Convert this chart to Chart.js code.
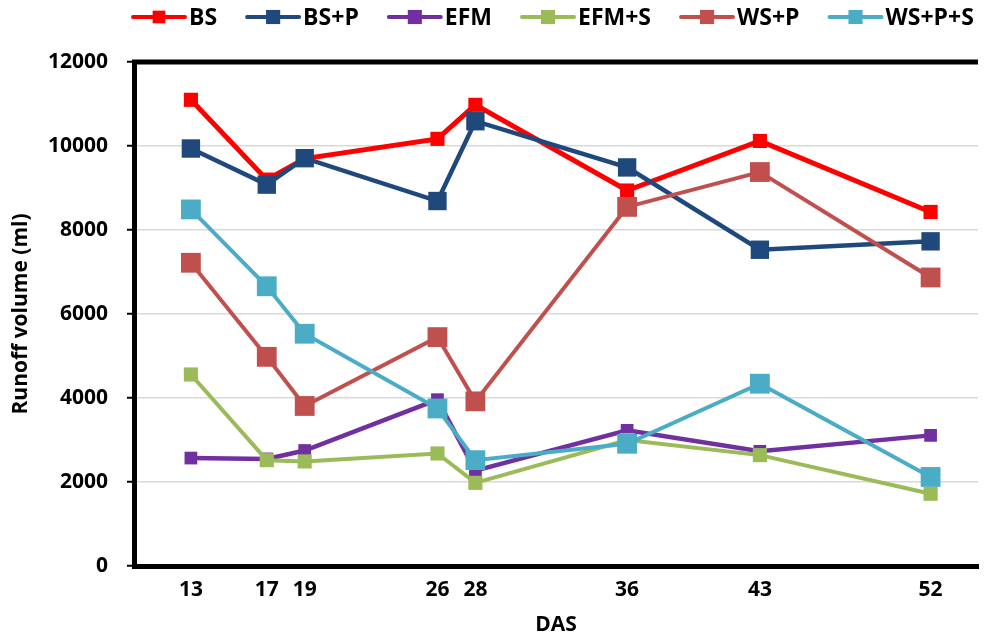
<!DOCTYPE html>
<html>
<head>
<meta charset="utf-8">
<script src="https://cdn.jsdelivr.net/npm/chart.js@4"></script>
<style>
html,body{margin:0;padding:0;background:#fff;overflow:hidden;}
#wrap{width:992px;height:639px;position:relative;}
</style>
</head>
<body>
<div id="wrap"><canvas id="c" width="992" height="639"></canvas></div>
<script>
const das = [13, 17, 19, 26, 28, 36, 43, 52];
const seriesNames = ["BS", "BS+P", "EFM", "EFM+S", "WS+P", "WS+P+S"];
const bs    = [11100, 9200, 9700, 10170, 10980, 8940, 10120, 8430];
const bsP   = [9940, 9080, 9710, 8690, 10590, 9490, 7530, 7730];
const efm   = [2570, 2550, 2750, 3960, 2270, 3230, 2730, 3110];
const efmS  = [4560, 2520, 2490, 2680, 1980, 3000, 2640, 1720];
const wsP   = [7220, 4980, 3810, 5450, 3920, 8550, 9380, 6870];
const wsPS  = [8490, 6660, 5530, 3750, 2520, 2910, 4340, 2120];
const yTicks = [0, 2000, 4000, 6000, 8000, 10000, 12000];

const FONT = "'Open Sans'";
const colors = ["#FF0000", "#1F497D", "#7030A0", "#9BBB59", "#C0504D", "#4BACC6"];
const lineW  = [5, 4.5, 4.5, 4, 4, 4];
const ptR    = [10, 13, 9, 10, 14, 14];
const legR   = [9, 10, 10, 10, 10, 10];
const allSeries = [bs, bsP, efm, efmS, wsP, wsPS];

const datasets = allSeries.map((vals, i) => ({
  label: seriesNames[i],
  data: das.map((d, k) => ({x: d, y: vals[k]})),
  borderColor: colors[i],
  backgroundColor: colors[i],
  borderWidth: lineW[i],
  pointStyle: 'rect',
  pointRadius: ptR[i],
  pointHoverRadius: ptR[i],
  pointBorderWidth: 0,
  pointBackgroundColor: colors[i],
  tension: 0,
  order: allSeries.length - i
}));

const legendPlugin = {
  id: 'customLegend',
  afterDraw(chart) {
    const ctx = chart.ctx;
    ctx.save();
    ctx.font = "bold 23px " + FONT;
    ctx.textBaseline = 'middle';
    let x = 131;
    const y = 17;
    chart.data.datasets.forEach((ds, i) => {
      ctx.strokeStyle = ds.borderColor;
      ctx.lineWidth = 4;
      ctx.lineCap = 'round';
      ctx.beginPath();
      ctx.moveTo(x + 2, y);
      ctx.lineTo(x + 54, y);
      ctx.stroke();
      const s = legR[i] * 1.414;
      ctx.fillStyle = ds.borderColor;
      ctx.fillRect(x + 28 - s / 2, y - s / 2, s, s);
      ctx.fillStyle = '#000';
      ctx.fillText(ds.label, x + 58, y + 1);
      x += 58 + ctx.measureText(ds.label).width + 28;
    });
    ctx.restore();
  }
};

const topBorder = {
  id: 'topBorder',
  afterDraw(chart) {
    const {ctx, chartArea} = chart;
    ctx.save();
    ctx.strokeStyle = '#000';
    ctx.lineWidth = 5;
    ctx.beginPath();
    ctx.moveTo(chartArea.left - 2, chartArea.top);
    ctx.lineTo(chartArea.right, chartArea.top);
    ctx.stroke();
    ctx.restore();
  }
};

const tickFont = {family: FONT, size: 21, weight: 'bold'};

new Chart(document.getElementById('c'), {
  type: 'line',
  data: {datasets},
  options: {
    responsive: false,
    animation: false,
    devicePixelRatio: 1,
    layout: {padding: {top: 62, right: 0, left: 0, bottom: 0}},
    plugins: {legend: {display: false}, tooltip: {enabled: false}},
    scales: {
      x: {
        type: 'linear',
        min: 10,
        max: 54.5,
        afterBuildTicks: (scale) => { scale.ticks = das.map(v => ({value: v})); },
        afterFit: (scale) => { scale.height = 73; },
        grid: {display: false, drawTicks: false},
        border: {display: true, color: '#000', width: 5},
        ticks: {
          autoSkip: false, maxRotation: 0, padding: 11,
          color: '#000',
          font: tickFont,
          callback: (v) => String(v)
        },
        title: {
          display: true, text: 'DAS', color: '#000',
          font: tickFont,
          padding: {top: 0, bottom: 1}
        }
      },
      y: {
        min: 0, max: 12000,
        afterBuildTicks: (scale) => { scale.ticks = yTicks.map(v => ({value: v})); },
        afterFit: (scale) => { scale.width = 134; },
        grid: {color: '#D9D9D9', lineWidth: 1.5, tickColor: '#000', tickLength: 7, tickWidth: 2, drawTicks: true},
        border: {display: true, color: '#000', width: 5},
        ticks: {
          padding: 19, color: '#000',
          font: tickFont,
          callback: (v) => String(v)
        },
        title: {
          display: true, text: 'Runoff volume (ml)', color: '#000',
          font: tickFont,
          padding: {top: 8, bottom: 0}
        }
      }
    }
  },
  plugins: [legendPlugin, topBorder]
});
</script>
</body>
</html>
